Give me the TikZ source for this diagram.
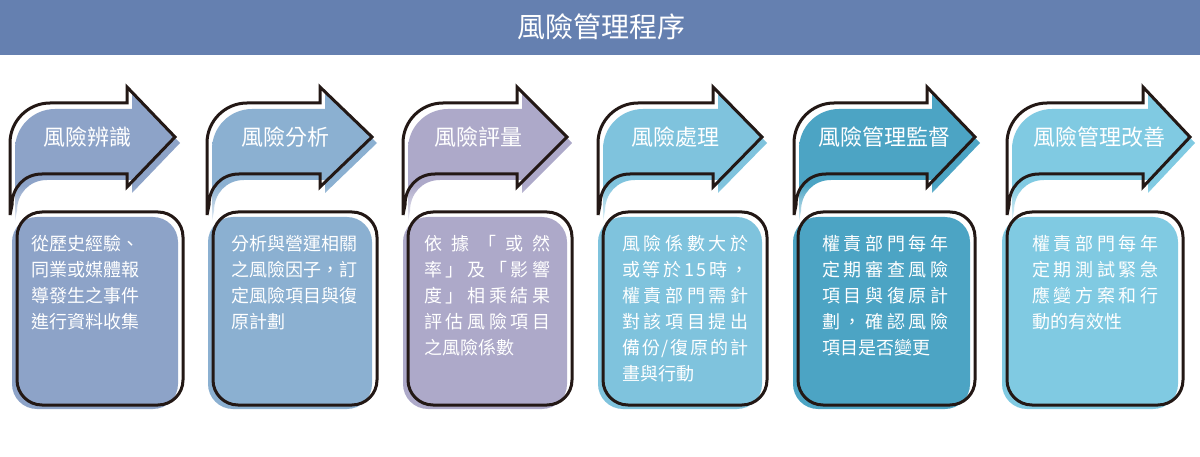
\documentclass[tikz,border=0pt]{standalone}
\usepackage{fontspec}
\setmainfont{Noto Sans CJK TC}
\definecolor{titlebg}{HTML}{6580B0}
\definecolor{ink}{HTML}{231815}
\definecolor{cA}{HTML}{8DA3C8}
\definecolor{cB}{HTML}{8BB0D1}
\definecolor{cC}{HTML}{ADA9C9}
\definecolor{cD}{HTML}{7FC3DD}
\definecolor{cE}{HTML}{4CA4C4}
\definecolor{cF}{HTML}{80CAE2}
\pgfdeclareverticalshading{fadeA}{100bp}{color(0bp)=(cA!20!white); color(25bp)=(cA!20!white); color(39bp)=(cA); color(100bp)=(cA)}
\pgfdeclareverticalshading{fadeB}{100bp}{color(0bp)=(cB!20!white); color(25bp)=(cB!20!white); color(39bp)=(cB); color(100bp)=(cB)}
\pgfdeclareverticalshading{fadeC}{100bp}{color(0bp)=(cC!20!white); color(25bp)=(cC!20!white); color(39bp)=(cC); color(100bp)=(cC)}
\pgfdeclareverticalshading{fadeD}{100bp}{color(0bp)=(cD!20!white); color(25bp)=(cD!20!white); color(39bp)=(cD); color(100bp)=(cD)}
\pgfdeclareverticalshading{fadeE}{100bp}{color(0bp)=(cE!20!white); color(25bp)=(cE!20!white); color(39bp)=(cE); color(100bp)=(cE)}
\pgfdeclareverticalshading{fadeF}{100bp}{color(0bp)=(cF!20!white); color(25bp)=(cF!20!white); color(39bp)=(cF); color(100bp)=(cF)}
% arrow outline path: #1 left x, #2 head base x, #3 tip x
\def\arrowpath#1#2#3{(#1,215) -- (#1,143) .. controls (#1,121) and ({#1+18},103) .. ({#1+40},103) -- (#2,103) -- (#2,87) -- (#3,137) -- (#2,187) -- (#2,174) -- ({#1+32},174) .. controls ({#1+14},174) and ({#1+2},188) .. ({#1+2},205) -- cycle}
\newcommand\stepunit[7]{%
  \shade[shading=#7, shift={(5,6)}] \arrowpath{#1}{#2}{#3};
  \fill[#6, rounded corners=25pt] ({#4-5},217) rectangle ({#5-5},409);
  \draw[outl] \arrowpath{#1}{#2}{#3};
  \draw[outl, rounded corners=25pt] (#4,212) rectangle (#5,405);
}
\begin{document}
\begin{tikzpicture}[x=1pt, y=-1pt,
  outl/.style={draw=ink, line width=3pt, line join=miter},
  titletext/.style={font=\fontsize{28pt}{28pt}\selectfont, text=white, anchor=base, inner sep=0pt},
  lab/.style={font=\fontsize{22pt}{22pt}\selectfont, text=white, anchor=base, inner sep=0pt},
  bodytext/.style={font=\fontsize{18pt}{18pt}\selectfont, text=white, anchor=base west, inner sep=0pt}]
\useasboundingbox (0,0) rectangle (1200,457);
\fill[white] (0,0) rectangle (1200,457);
\fill[titlebg] (0,0) rectangle (1200,55);
\node[titletext] (title) at (601,38) {風險管理程序};

\stepunit{10}{127}{175}{17}{183}{cA}{fadeA}
\stepunit{207}{320}{372}{213}{377}{cB}{fadeB}
\stepunit{403}{517}{567}{408}{572}{cC}{fadeC}
\stepunit{598}{713}{762}{603}{767}{cD}{fadeD}
\stepunit{794}{927}{975}{798}{975}{cE}{fadeE}
\stepunit{1007}{1143}{1190}{1007}{1183}{cF}{fadeF}

\node[lab] (labA) at (87,146) {風險辨識};
\node[lab] (labB) at (285,146) {風險分析};
\node[lab] (labC) at (478,146) {風險評量};
\node[lab] (labD) at (675,146) {風險處理};
\node[lab] (labE) at (884,146) {風險管理監督};
\node[lab] (labF) at (1099,146) {風險管理改善};

\newcommand\jline[1]{\makebox[126pt][s]{\spaceskip=0pt plus 1fil\xspaceskip=0pt plus 1fil\relax #1}}

% unit 1
\foreach \s [count=\i] in {{從歷史經驗、},{同業或媒體報},{導發生之事件},{進行資料收集}}
  \node[bodytext] (tA\i) at (31,{251+(\i-1)*25.8}) {\s};
% unit 2
\foreach \s [count=\i] in {{分 析 與 營 運 相 關},{之 風 險 因 子 ， 訂},{定 風 險 項 目 與 復}}
  \node[bodytext] (tB\i) at (231,{251+(\i-1)*25.8}) {\jline{\s}};
\node[bodytext] (tB4) at (231,{251+3*25.8}) {原計劃};
% unit 3
\foreach \s [count=\i] in {{依 據 「 或 然},{率 」 及 「 影 響},{度 」 相 乘 結 果},{評 估 風 險 項 目}}
  \node[bodytext] (tC\i) at (424,{251+(\i-1)*25.8}) {\jline{\s}};
\node[bodytext] (tC5) at (424,{251+4*25.8}) {之風險係數};
% unit 4
\foreach \s [count=\i] in {{風 險 係 數 大 於},{或 等 於 1 5 時 ，},{權 責 部 門 需 針},{對 該 項 目 提 出},{備 份 / 復 原 的 計}}
  \node[bodytext] (tD\i) at (622,{251+(\i-1)*25.8}) {\jline{\s}};
\node[bodytext] (tD6) at (622,{251+5*25.8}) {畫與行動};
% unit 5
\foreach \s [count=\i] in {{權 責 部 門 每 年},{定 期 審 查 風 險},{項 目 與 復 原 計},{劃 ， 確 認 風 險}}
  \node[bodytext] (tE\i) at (822,{251+(\i-1)*25.8}) {\jline{\s}};
\node[bodytext] (tE5) at (822,{251+4*25.8}) {項目是否變更};
% unit 6
\foreach \s [count=\i] in {{權 責 部 門 每 年},{定 期 測 試 緊 急},{應 變 方 案 和 行}}
  \node[bodytext] (tF\i) at (1032,{251+(\i-1)*25.8}) {\jline{\s}};
\node[bodytext] (tF4) at (1032,{251+3*25.8}) {動的有效性};
\end{tikzpicture}
\end{document}
